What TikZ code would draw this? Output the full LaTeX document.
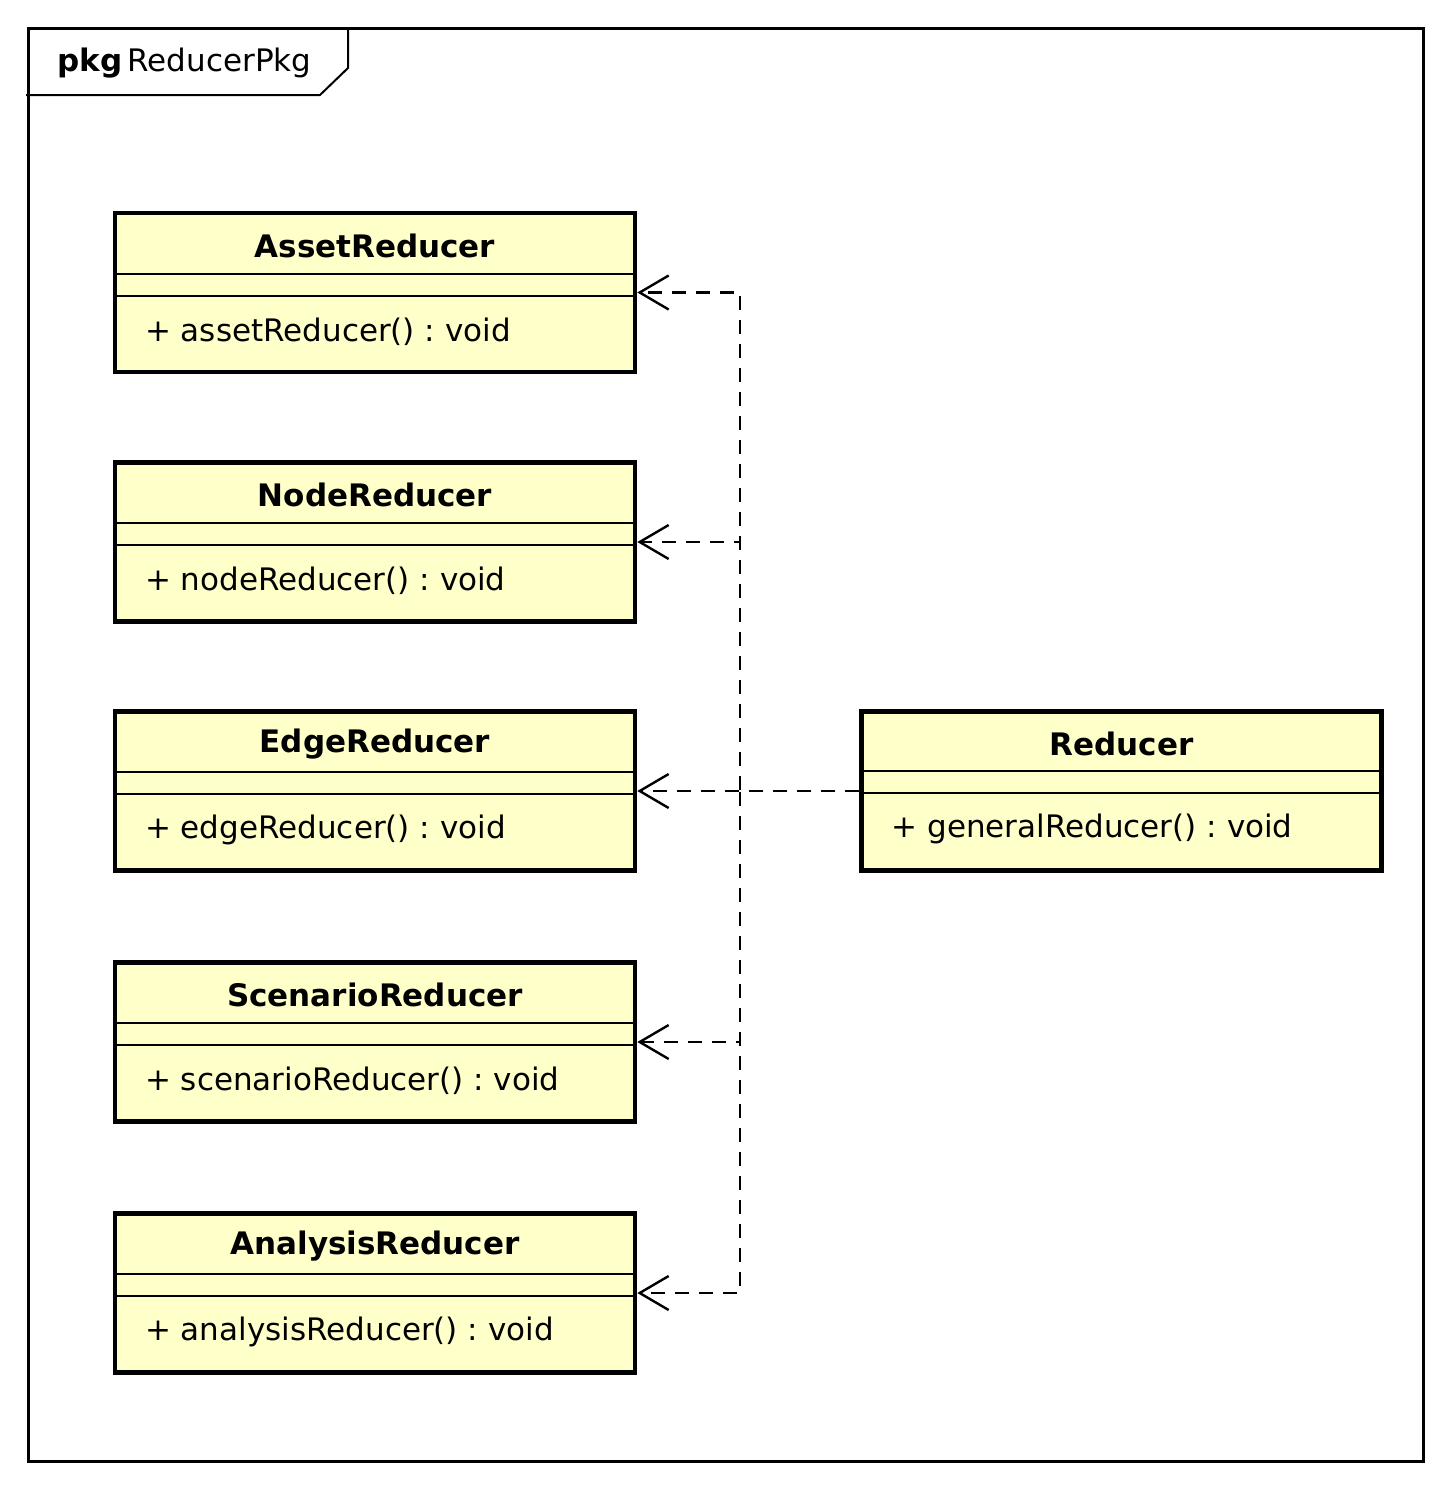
\documentclass[tikz,border=0pt]{standalone}
\usepackage{fontspec}
\setmainfont{DejaVu Sans}
\usetikzlibrary{positioning,calc,arrows.meta}

\definecolor{classfill}{RGB}{255,255,202}
\frenchspacing

\tikzset{
    classbox/.style={draw, line width=2.3pt, fill=classfill,
        minimum width=260pt, minimum height=79.5pt, inner sep=0pt},
    classname/.style={font=\fontsize{15.5}{18}\selectfont\bfseries},
    classop/.style={anchor=west, inner sep=0pt},
    sepline/.style={line width=1.1pt},
    dep/.style={line width=1.2pt, dash pattern=on 7pt off 5pt,
        -{Straight Barb[length=14.5pt, width=17pt, line width=1.2pt]}}
}

\begin{document}
\begin{tikzpicture}[x=0.5pt, y=-0.5pt, font=\fontsize{15.5}{18}\selectfont]

        \useasboundingbox (0,0) rectangle (1450,1488);

        % package frame and its tab
        \draw[line width=1.5pt] (28,28) rectangle (1423,1461);
        \draw[line width=1pt] (26,95) -- (320,95) -- (348,68) -- (348,28);
        \node[anchor=west, inner sep=0pt] (pkg) at (57,63)
            {\textbf{pkg}\,ReducerPkg};

        % the five reducers on the left
        \foreach \n/\y/\t/\m in {
            Asset/292.5/AssetReducer/assetReducer,
            Node/542/NodeReducer/nodeReducer,
            Edge/791/EdgeReducer/edgeReducer,
            Scenario/1042/ScenarioReducer/scenarioReducer,
            Analysis/1293/AnalysisReducer/analysisReducer}
        {
            \node[classbox] (\n) at (375,\y) {};
            \node[classname] (\n-name) at ($(\n.north)+(0,35)$) {\t};
            \draw[sepline] ($(\n.north west)+(2,63)$) -- ($(\n.north east)+(-2,63)$);
            \draw[sepline] ($(\n.north west)+(2,85)$) -- ($(\n.north east)+(-2,85)$);
            \node[classop] (\n-op) at ($(\n.north west)+(32,121)$)
                {+ \m() : void};
        }

        % the general reducer on the right
        \node[classbox] (Reducer) at (1121.5,791) {};
        \node[classname] (Reducer-name) at ($(Reducer.north)+(0,35)$) {Reducer};
        \draw[sepline] ($(Reducer.north west)+(2,62)$) -- ($(Reducer.north east)+(-2,62)$);
        \draw[sepline] ($(Reducer.north west)+(2,84)$) -- ($(Reducer.north east)+(-2,84)$);
        \node[classop] (Reducer-op) at ($(Reducer.north west)+(32,120)$)
            {+ generalReducer() : void};

        % dependencies
        \coordinate (bus) at (740,791);
        \begin{scope}
            \draw[dep] (Reducer.west) -- (bus) |- (Asset.east);
            \draw[dep] (Reducer.west) -- (bus) |- (Node.east);
            \draw[dep] (Reducer.west) -- (Edge.east);
            \draw[dep] (Reducer.west) -- (bus) |- (Scenario.east);
            \draw[dep] (Reducer.west) -- (bus) |- (Analysis.east);
        \end{scope}

\end{tikzpicture}
\end{document}
